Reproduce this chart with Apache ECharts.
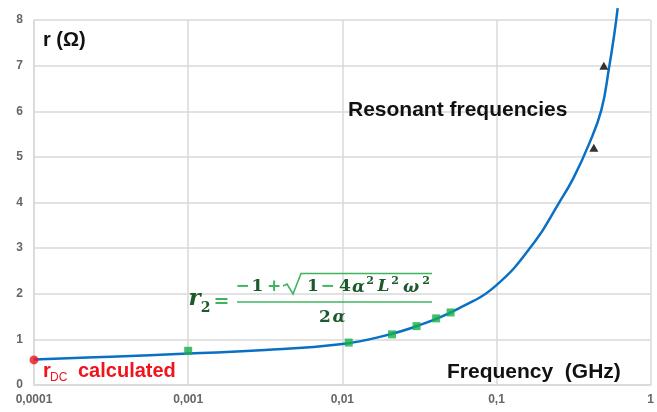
<!DOCTYPE html>
<html>
<head>
<meta charset="utf-8">
<script src="https://cdn.jsdelivr.net/npm/echarts@6/dist/echarts.min.js"></script>
<style>html,body{margin:0;padding:0;background:#fff}#c{width:657px;height:412px}</style>
</head>
<body>
<div id="c"></div>
<script>
// ---- data ----
const xTickLabels = ['0,0001', '0,001', '0,01', '0,1', '1'];
const yTicks = [0, 1, 2, 3, 4, 5, 6, 7, 8];
const curveX = [0.0001, 0.000316, 0.001, 0.00316, 0.01, 0.0178, 0.0316, 0.0562, 0.1, 0.178, 0.251, 0.316, 0.398, 0.479, 0.537, 0.582, 0.611];
const curveY = [0.56, 0.62, 0.69, 0.765, 0.90, 1.06, 1.31, 1.67, 2.19, 3.15, 3.96, 4.54, 5.28, 6.03, 6.95, 7.71, 8.26];
const measX = [0.001, 0.011, 0.021, 0.0303, 0.0406, 0.0504];
const measY = [0.75, 0.93, 1.11, 1.29, 1.46, 1.59];
const resX = [0.428, 0.497];
const resY = [5.2, 7.0];
const dcX = [0.0001];
const dcY = [0.55];

const zip = (a, b) => a.map((v, i) => [v, b[i]]);
const chart = echarts.init(document.getElementById('c'), null, {renderer: 'canvas'});

const dark = '#1c5a2a', light = '#3cb55e';
const mathFont = 'DejaVu Serif';
function mt(cx, cy, text, color, size, italic) {
  return {type: 'text', x: cx, y: cy, z: 10,
    style: {text: text, fill: color, font: (italic ? 'italic ' : '') + 'bold ' + size + 'px "' + mathFont + '"',
      textAlign: 'center', textVerticalAlign: 'middle'}};
}
function lbl(x, y, text, color, font) {
  return {type: 'text', x: x, y: y, z: 10, style: {text: text, fill: color, font: font, textVerticalAlign: 'middle'}};
}

chart.setOption({
  animation: false,
  grid: {left: 34, right: 4, top: 20, bottom: 27},
  xAxis: {
    type: 'log', logBase: 10, min: 0.0001, max: 1,
    axisLine: {show: true, lineStyle: {color: '#d9d9d9', width: 1.5}},
    axisTick: {show: false},
    splitLine: {show: true, lineStyle: {color: '#d9d9d9', width: 1.5}},
    minorTick: {show: false},
    axisLabel: {
      showMinLabel: true, showMaxLabel: true, margin: 9,
      color: '#666', fontSize: 12, fontFamily: 'Liberation Sans', fontWeight: 'bold',
      formatter: v => xTickLabels[Math.round(Math.log10(v)) + 4]
    }
  },
  yAxis: {
    type: 'value', min: yTicks[0], max: yTicks[yTicks.length - 1], interval: 1,
    axisLine: {show: true, lineStyle: {color: '#d9d9d9', width: 1.5}},
    axisTick: {show: false},
    splitLine: {show: true, lineStyle: {color: '#d9d9d9', width: 1.5}},
    axisLabel: {margin: 11, color: '#666', fontSize: 12, fontFamily: 'Liberation Sans', fontWeight: 'bold'}
  },
  series: [
    {type: 'line', data: zip(curveX, curveY), smooth: 0.45, showSymbol: false, clip: false,
      lineStyle: {color: '#0a70c4', width: 2.5}, z: 3},
    {type: 'scatter', data: zip(measX, measY), symbol: 'rect', symbolSize: 8,
      itemStyle: {color: '#13b04a'}, z: 4},
    {type: 'scatter', data: zip(resX, resY), symbol: 'triangle', symbolSize: [9, 8],
      itemStyle: {color: '#000'}, z: 4},
    {type: 'scatter', data: zip(dcX, dcY), symbol: 'circle', symbolSize: 9, clip: false,
      itemStyle: {color: '#e8141c'}, z: 5}
  ],
  graphic: [
    lbl(43, 40, 'r (Ω)', '#111', 'bold 20px "Liberation Sans"'),
    lbl(348, 110, 'Resonant frequencies', '#111', 'bold 21px "Liberation Sans"'),
    lbl(447, 372, 'Frequency  (GHz)', '#111', 'bold 21px "Liberation Sans"'),
    lbl(43, 371, 'r', '#f0141c', 'bold 20px "Liberation Sans"'),
    lbl(50, 378, 'DC', '#f0141c', '12px "Liberation Sans"'),
    lbl(78, 371, 'calculated', '#f0141c', 'bold 20px "Liberation Sans"'),
    // formula  r2 = (-1 + sqrt(1 - 4a^2 L^2 w^2)) / (2a)
    mt(194.5, 299, 'r', dark, 23, true),
    mt(205.5, 308, '2', dark, 14, false),
    mt(221.5, 302, '=', light, 19, false),
    {type: 'line', z: 10, shape: {x1: 237, y1: 302, x2: 432, y2: 302}, style: {stroke: light, lineWidth: 1.6}},
    mt(242.5, 287, '−', light, 17, false),
    mt(257.5, 287, '1', dark, 17, false),
    mt(274, 287, '+', light, 17, false),
    {type: 'polyline', z: 10, shape: {points: [[283, 286], [287, 284], [293, 294], [301, 273.5], [432, 273.5]]},
      style: {stroke: light, lineWidth: 1.6, fill: null}},
    mt(313, 287, '1', dark, 17, false),
    mt(327.5, 287, '−', light, 17, false),
    mt(345, 287, '4', dark, 17, false),
    mt(358.5, 288, 'α', dark, 17, true),
    mt(370, 281, '2', dark, 11, false),
    mt(383.5, 287, 'L', dark, 17, true),
    mt(395, 281, '2', dark, 11, false),
    mt(411, 288, 'ω', dark, 17, true),
    mt(426, 281, '2', dark, 11, false),
    mt(325, 318, '2', dark, 17, false),
    mt(339, 318, 'α', dark, 17, true)
  ]
});
</script>
</body>
</html>
